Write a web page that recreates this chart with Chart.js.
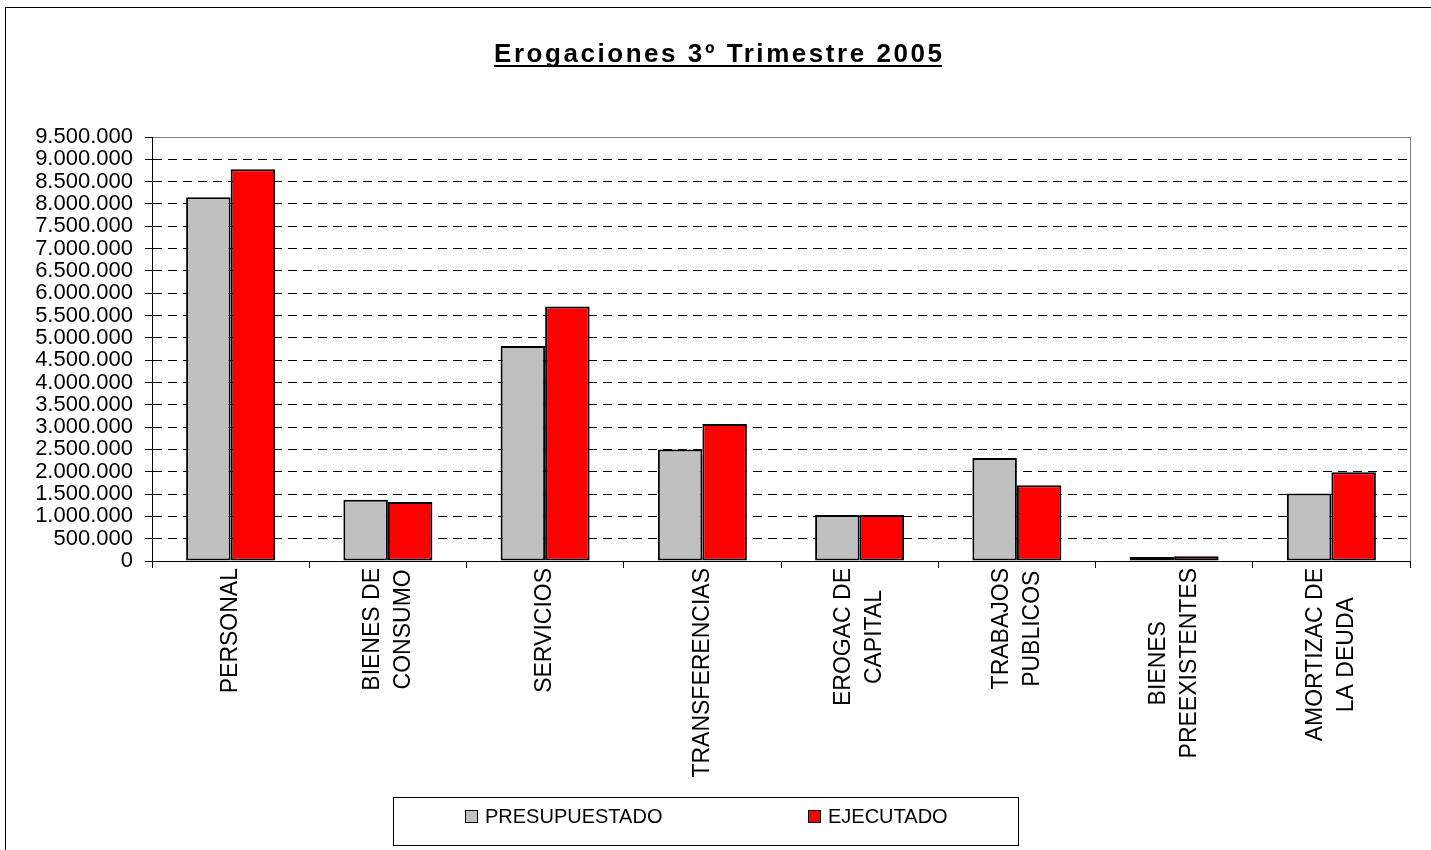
<!DOCTYPE html>
<html>
<head>
<meta charset="utf-8">
<script src="https://cdn.jsdelivr.net/npm/chart.js@4.4.1/dist/chart.umd.min.js"></script>
<style>
  html, body { margin: 0; padding: 0; background: #fff; }
  #wrap { width: 1431px; height: 850px; position: relative; }
</style>
</head>
<body>
<div id="wrap"><canvas id="c" width="1431" height="850"></canvas></div>
<script>
// ---- data ----
const chartTitle = 'Erogaciones 3º Trimestre 2005';
const categories = [
  'PERSONAL',
  ['BIENES DE', 'CONSUMO'],
  'SERVICIOS',
  'TRANSFERENCIAS',
  ['EROGAC DE', 'CAPITAL'],
  ['TRABAJOS', 'PUBLICOS'],
  ['BIENES', 'PREEXISTENTES'],
  ['AMORTIZAC DE', 'LA DEUDA']
];
const seriesNames = ['PRESUPUESTADO', 'EJECUTADO'];
const presupuestado = [8150000, 1370000, 4820000, 2500000, 1030000, 2310000, 90000, 1510000];
const ejecutado     = [8780000, 1320000, 5700000, 3070000, 1030000, 1700000, 105000, 1990000];
const yMin = 0, yMax = 9500000, yStep = 500000;

const FONT = '"Liberation Sans", Arial, Helvetica, sans-serif';

function fmt(v) {
  return String(Math.round(v)).replace(/\B(?=(\d{3})+(?!\d))/g, '.');
}

const framePlugin = {
  id: 'frame',
  beforeDraw(chart) {
    const ctx = chart.ctx, a = chart.chartArea;
    ctx.save();
    ctx.fillStyle = '#fff';
    ctx.fillRect(0, 0, chart.width, chart.height);
    ctx.strokeStyle = '#000';
    ctx.lineWidth = 1;
    ctx.strokeRect(5.5, 7.5, chart.width + 20, chart.height + 20);
    ctx.strokeStyle = '#808080';
    ctx.strokeRect(Math.round(a.left) + 0.5, Math.round(a.top) + 0.5,
                   Math.round(a.right - a.left), Math.round(a.bottom - a.top));
    ctx.restore();
  },
  afterDraw(chart) {
    const ctx = chart.ctx;
    const hasLS = ('letterSpacing' in ctx);
    ctx.save();
    // title
    ctx.font = 'bold 26px ' + FONT;
    ctx.fillStyle = '#000';
    ctx.textBaseline = 'alphabetic';
    ctx.textAlign = 'left';
    const natW = ctx.measureText(chartTitle).width;
    const targetW = 448;
    let sp = 0;
    if (hasLS) {
      sp = Math.max(0, (targetW - natW) / (chartTitle.length - 1));
      ctx.letterSpacing = sp.toFixed(2) + 'px';
    }
    const w = natW + sp * (chartTitle.length - 1);
    const tx = 718 - w / 2;
    ctx.fillText(chartTitle, tx, 62);
    ctx.fillRect(tx, 65, w, 2);
    if (hasLS) ctx.letterSpacing = '0px';

    // category labels (rotated, centered lines)
    const xs = chart.scales.x;
    ctx.font = '23px ' + FONT;
    ctx.textAlign = 'center';
    ctx.textBaseline = 'middle';
    const lh = 31;
    const top = xs.top + 7;
    chart.data.labels.forEach((lab, i) => {
      const lines = Array.isArray(lab) ? lab : [lab];
      const px = xs.getPixelForValue(i);
      const maxW = Math.max(...lines.map(l => ctx.measureText(l).width));
      lines.forEach((line, j) => {
        const cx = px + (j - (lines.length - 1) / 2) * lh;
        ctx.save();
        ctx.translate(cx, top + maxW / 2);
        ctx.rotate(-Math.PI / 2);
        ctx.fillText(line, 0, 0);
        ctx.restore();
      });
    });

    // legend
    ctx.strokeStyle = '#000';
    ctx.lineWidth = 1;
    ctx.strokeRect(393.5, 797.5, 625, 48);
    const items = [{ x: 465 }, { x: 808 }];
    ctx.font = '20px ' + FONT;
    ctx.textAlign = 'left';
    ctx.textBaseline = 'middle';
    chart.data.datasets.forEach((ds, k) => {
      const ix = items[k].x;
      ctx.fillStyle = ds.backgroundColor;
      ctx.fillRect(ix, 810, 13, 13);
      ctx.strokeRect(ix + 0.5, 810.5, 12, 12);
      ctx.fillStyle = '#000';
      ctx.fillText(ds.label, ix + 20, 817.5);
    });
    ctx.restore();
  }
};

new Chart(document.getElementById('c'), {
  type: 'bar',
  data: {
    labels: categories,
    datasets: [
      { label: seriesNames[0], data: presupuestado, backgroundColor: '#C0C0C0',
        borderColor: '#000', borderWidth: 2, borderSkipped: false,
        categoryPercentage: 0.566, barPercentage: 1.0 },
      { label: seriesNames[1], data: ejecutado, backgroundColor: '#FF0000',
        borderColor: '#000', borderWidth: 2, borderSkipped: false,
        categoryPercentage: 0.566, barPercentage: 1.0 }
    ]
  },
  options: {
    responsive: false,
    animation: false,
    layout: { padding: { top: 137, left: 0, right: 21, bottom: 281 } },
    plugins: {
      legend: { display: false },
      title: { display: false },
      tooltip: { enabled: false }
    },
    scales: {
      x: {
        ticks: { display: false },
        grid: { drawOnChartArea: false, drawTicks: true, tickLength: 7, tickColor: '#000', offset: true },
        border: { display: true, color: '#000', width: 1 },
        afterFit: s => { s.height = 8; }
      },
      y: {
        min: yMin, max: yMax,
        ticks: {
          stepSize: yStep, autoSkip: false, padding: 12, color: '#000',
          font: { family: FONT, size: 22 },
          callback: v => fmt(v)
        },
        grid: {
          color: c => (c.tick && (c.tick.value === yMin || c.tick.value === yMax)) ? 'rgba(0,0,0,0)' : '#000',
          tickColor: '#000', tickLength: 7, tickBorderDash: [], lineWidth: 1
        },
        border: { display: true, color: '#000', width: 1, dash: [9, 6] },
        afterFit: s => { s.width = 152; }
      }
    }
  },
  plugins: [framePlugin]
});
</script>
</body>
</html>
